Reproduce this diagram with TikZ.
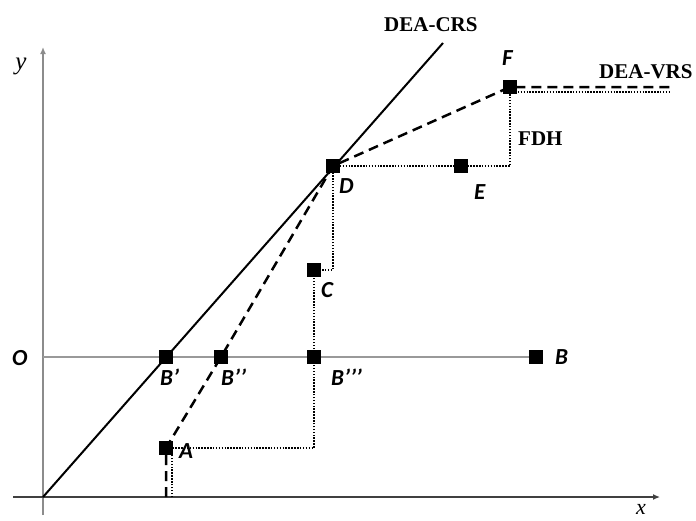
\documentclass[tikz,border=0pt]{standalone}
\usepackage{fontspec}
\setmainfont{Liberation Serif}
\newfontfamily\lab{Carlito}
\usetikzlibrary{arrows.meta}
\begin{document}
\begin{tikzpicture}[x=1pt,y=-1pt,
  dot/.style={fill=black,draw=none,minimum size=13pt,inner sep=0pt,rectangle},
  lbl/.style={font=\lab\bfseries\itshape\fontsize{23}{23}\selectfont,anchor=west,inner sep=0pt},
  frontier/.style={font=\bfseries\fontsize{21}{21}\selectfont,anchor=west,inner sep=0pt},
  axislbl/.style={font=\itshape\fontsize{25}{25}\selectfont,inner sep=0pt},
  yaxis/.style={line width=1.5pt,draw=black!45,-{Latex[length=7pt,width=6pt]}},
  xaxis/.style={line width=1.3pt,draw=black!75,-{Latex[length=7pt,width=6pt]}},
  oline/.style={line width=2pt,draw=black!40},
  crs/.style={line width=2pt},
  vrs/.style={line width=2.5pt,dash pattern=on 10pt off 6pt},
  fdh/.style={line width=1.8pt,dash pattern=on 1.5pt off 1.4pt},
  ]
\useasboundingbox (0,0) rectangle (696,520);
% axes
\coordinate (orig) at (43,497);
\coordinate (ytop) at (43,47);
\coordinate (ybot) at (43,515);
\coordinate (xl) at (13,497);
\coordinate (xr) at (660,497);
\draw[yaxis] (ybot) -- (ytop);
\draw[xaxis] (xl) -- (xr);
\node[axislbl] (ylab) at (21,66) {y};
\node[axislbl,anchor=base,font=\itshape\fontsize{22}{22}\selectfont] (xlab) at (641,514) {x};
% points
\node[dot] (A) at (166,448) {};
\node[dot] (B1) at (166,357) {};
\node[dot] (B2) at (221,357) {};
\node[dot] (B3) at (314,357) {};
\node[dot] (B) at (536,357) {};
\node[dot] (C) at (314,270) {};
\node[dot] (D) at (333,166) {};
\node[dot] (E) at (461,166) {};
\node[dot] (F) at (510,87) {};
\coordinate (Ostart) at (43,357);
\coordinate (crsend) at (443,43);
\coordinate (Abase) at (166,497);
\coordinate (Adot) at (172,448);
\coordinate (Adotbase) at (172,497);
\coordinate (vrsend) at (670,87);
\coordinate (Fdot) at (512,92);
\coordinate (fdhend) at (670,92);
% O line
\draw[oline] (Ostart) -- (B);
% DEA-CRS
\draw[crs] (orig) -- (crsend);
% DEA-VRS
\draw[vrs] (Abase) -- (A.center) -- (B2.center) -- (D.center) -- (F.center) -- (vrsend);
% FDH
\draw[fdh] (Adotbase) -- (Adot) -- (A.center -| B3.center) -- (B3.center) -- (C.center) -- (C.center -| D.center) -- (D.center) -- (E.center) -- (E.center -| F.center) -- (F.center);
\draw[fdh] (Fdot) -- (fdhend);
% redraw points on top
\foreach \p in {A,B1,B2,B3,B,C,D,E,F} \fill (\p.south west) rectangle (\p.north east);
% labels
\node[lbl] (lO) at (12,358) {O};
\node[lbl] (lB1) at (160,377) {B’};
\node[lbl] (lB2) at (221,377) {B’’};
\node[lbl] (lB3) at (331,377) {B’’’};
\node[lbl] (lB) at (555,357) {B};
\node[lbl] (lA) at (179,451) {A};
\node[lbl] (lC) at (321,290) {C};
\node[lbl] (lD) at (339,186) {D};
\node[lbl] (lE) at (474,192) {E};
\node[lbl] (lF) at (502,58) {F};
\node[frontier] (lcrs) at (384,25) {DEA-CRS};
\node[frontier] (lvrs) at (599,72) {DEA-VRS};
\node[frontier] (lfdh) at (518,139) {FDH};
\end{tikzpicture}
\end{document}
